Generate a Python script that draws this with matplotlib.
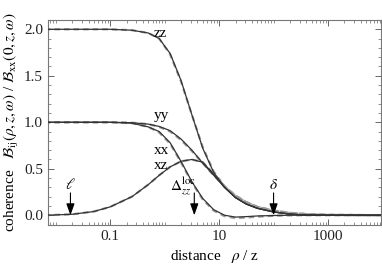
import numpy as np
import matplotlib
matplotlib.use("Agg")
import matplotlib.pyplot as plt
from matplotlib.ticker import FixedLocator, NullFormatter, FixedFormatter

plt.rcParams['font.family'] = ['Liberation Serif', 'DejaVu Serif']
plt.rcParams['mathtext.fontset'] = 'stix'

# log10(rho/z) sample positions
logr = [-2.2, -1.0, -0.6, -0.3, -0.1, 0.1, 0.3, 0.5, 0.7, 0.9, 1.1, 1.3, 1.5, 1.7, 2.0, 2.3, 2.6, 3.0, 4.1]

zz_solid = [2.0, 2.0, 1.99, 1.96, 1.90, 1.74, 1.45, 1.08, 0.72, 0.46, 0.30, 0.19, 0.12, 0.075, 0.035, 0.012, 0.002, 0.0, 0.0]
yy_solid = [1.0, 1.0, 0.995, 0.98, 0.955, 0.91, 0.82, 0.70, 0.56, 0.43, 0.30, 0.19, 0.12, 0.075, 0.035, 0.012, 0.002, 0.0, 0.0]
xx_solid = [1.0, 1.0, 0.99, 0.95, 0.90, 0.78, 0.58, 0.36, 0.18, 0.06, 0.0, -0.02, -0.015, -0.008, -0.003, 0.0, 0.0, 0.0, 0.0]
xz_solid = [0.0, 0.09, 0.20, 0.33, 0.43, 0.52, 0.58, 0.60, 0.57, 0.44, 0.30, 0.19, 0.12, 0.075, 0.035, 0.012, 0.002, 0.0, 0.0]
xz_lead_logr = [-2.2, -1.7, -1.3]
xz_lead = [0.0, 0.01, 0.04]

zz_dash = [2.0, 2.0, 1.99, 1.96, 1.90, 1.73, 1.44, 1.08, 0.73, 0.47, 0.31, 0.21, 0.14, 0.09, 0.05, 0.025, 0.012, 0.004, 0.0]
yy_dash = [1.0, 1.0, 0.995, 0.98, 0.95, 0.90, 0.81, 0.69, 0.56, 0.43, 0.31, 0.21, 0.14, 0.09, 0.05, 0.025, 0.012, 0.004, 0.0]
xx_dash = [1.0, 1.0, 0.99, 0.95, 0.89, 0.77, 0.57, 0.35, 0.17, 0.05, -0.01, -0.03, -0.025, -0.015, -0.006, -0.002, 0.0, 0.0, 0.0]
xz_dash = [0.0, 0.09, 0.20, 0.33, 0.43, 0.52, 0.58, 0.60, 0.57, 0.45, 0.31, 0.21, 0.14, 0.09, 0.05, 0.025, 0.012, 0.004, 0.0]

labels = ["zz", "yy", "xx", "xz"]
label_pos = [(0.62, 1.95), (0.62, 1.07), (0.62, 0.70), (0.62, 0.54)]

arrow_x = [0.0186, 3.5, 100.0]
arrow_text = [r"$\ell$", r"$\Delta_{zz}^{\rm loc}$", r"$\delta$"]
arrow_text_pos = [(0.0186, 0.33), (2.2, 0.31), (100.0, 0.33)]

xticks_major = [0.1, 10, 1000]
xtick_labels = ["0.1", "10", "1000"]

fig = plt.figure(figsize=(3.82, 2.67), dpi=100)
ax = fig.add_axes([48/382, 1-225/267, 333/382, 205/267])

r = 10.0 ** np.array(logr)

def xzfull(vals):
    lr = xz_lead_logr + logr[1:]
    v = xz_lead + vals[1:]
    return 10.0 ** np.array(lr), v

for arr in [zz_dash, yy_dash, xx_dash]:
    ax.plot(r, arr, color='#9a9a9a', lw=1.6, ls=(0, (2.5, 1.8)), zorder=2)
xr, xv = xzfull(xz_dash)
ax.plot(xr, xv, color='#9a9a9a', lw=1.6, ls=(0, (2.5, 1.8)), zorder=2)

for arr in [zz_solid, yy_solid, xx_solid]:
    ax.plot(r, arr, color='#333333', lw=0.9, zorder=3)
xr, xv = xzfull(xz_solid)
ax.plot(xr, xv, color='#333333', lw=0.9, zorder=3)

for lab, (lx, ly) in zip(labels, label_pos):
    ax.text(lx, ly, lab, fontsize=11, ha='left', va='center', zorder=4)

for axx, txt, (tx, ty) in zip(arrow_x, arrow_text, arrow_text_pos):
    ax.annotate("", xy=(axx, 0.0), xytext=(axx, 0.24),
                arrowprops=dict(arrowstyle='-|>,head_length=0.7,head_width=0.25', color='black', lw=0.8,
                                shrinkA=0, shrinkB=0), zorder=5)
    ax.text(tx, ty, txt, fontsize=11, ha='center', va='center', zorder=5)

ax.set_xscale('log')
ax.set_xlim(0.0072, 9400)
ax.set_ylim(-0.105, 2.09)

minors = []
for k in range(-3, 5):
    for m in range(1, 10):
        v = m * 10.0 ** k
        if v not in xticks_major:
            minors.append(v)
ax.xaxis.set_major_locator(FixedLocator(xticks_major))
ax.xaxis.set_major_formatter(FixedFormatter(xtick_labels))
ax.xaxis.set_minor_locator(FixedLocator(minors))
ax.xaxis.set_minor_formatter(NullFormatter())
ax.set_yticks([0.0, 0.5, 1.0, 1.5, 2.0])
ax.set_yticklabels(["0.0", "0.5", "1.0", "1.5", "2.0"])
ax.set_yticks(np.arange(-0.1, 2.11, 0.1), minor=True)

ax.tick_params(which='both', direction='in', top=True, right=True, color='#666666', labelsize=11, labelcolor='#222222')
ax.tick_params(which='major', length=4, width=0.7)
ax.tick_params(which='minor', length=2, width=0.5)
for s in ax.spines.values():
    s.set_color('#777777')
    s.set_linewidth(0.8)

ax.set_xlabel(r"distance   $\rho$ / z", fontsize=11, labelpad=4)
ax.set_ylabel(r"coherence   $\mathcal{B}_{\rm ij}(\rho,z,\omega)$ / $\mathcal{B}_{\rm xx}(0,z,\omega)$", fontsize=11, labelpad=2)

fig.savefig("out.png", dpi=100)
